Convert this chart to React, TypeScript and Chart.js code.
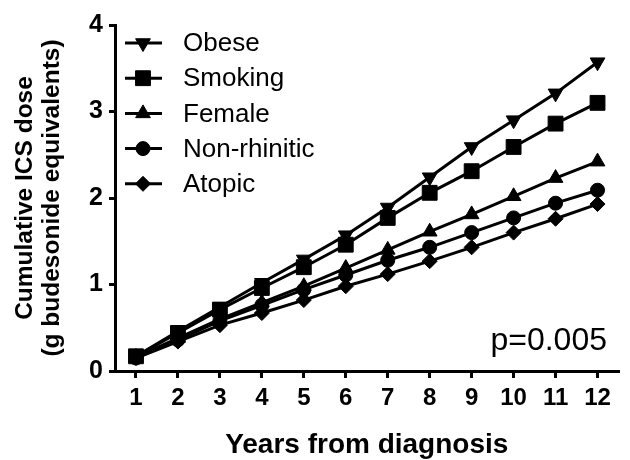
import React, { useEffect, useRef } from 'react';
import { Chart, registerables } from 'chart.js';
import { drawPoint } from 'chart.js/helpers';

Chart.register(...registerables);

const years = [1, 2, 3, 4, 5, 6, 7, 8, 9, 10, 11, 12];
const yTicks = [0, 1, 2, 3, 4];
const seriesNames = ['Obese', 'Smoking', 'Female', 'Non-rhinitic', 'Atopic'];
const obese = [0.17, 0.46, 0.74, 1.02, 1.29, 1.57, 1.89, 2.24, 2.59, 2.9, 3.21, 3.57];
const smoking = [0.17, 0.44, 0.71, 0.96, 1.2, 1.46, 1.77, 2.06, 2.31, 2.59, 2.86, 3.1];
const female = [0.16, 0.38, 0.6, 0.79, 0.98, 1.19, 1.4, 1.61, 1.81, 2.02, 2.23, 2.42];
const nonRhinitic = [0.15, 0.36, 0.58, 0.76, 0.94, 1.11, 1.28, 1.43, 1.6, 1.77, 1.94, 2.09];
const atopic = [0.15, 0.34, 0.53, 0.67, 0.82, 0.98, 1.12, 1.27, 1.43, 1.6, 1.76, 1.93];
const pText = 'p=0.005';
const xTitle = 'Years from diagnosis';
const yTitle = ['Cumulative ICS dose', '(g budesonide equivalents)'];

const FONT = "'Liberation Sans', Arial, Helvetica, sans-serif";

const styles = [
  { pointStyle: 'triangle', radius: 8.5, rotation: 180 },
  { pointStyle: 'rect', radius: 10.5, rotation: 0 },
  { pointStyle: 'triangle', radius: 8.5, rotation: 0 },
  { pointStyle: 'circle', radius: 7, rotation: 0 },
  { pointStyle: 'rectRot', radius: 7.5, rotation: 0 },
];

const legendPlugin = {
  id: 'customLegend',
  afterDraw(chart: any) {
    const ctx = chart.ctx;
    ctx.save();
    chart.data.datasets.forEach((ds: any, i: number) => {
      const y = 43 + i * 35.2;
      ctx.strokeStyle = '#000';
      ctx.lineWidth = 3;
      ctx.beginPath();
      ctx.moveTo(125, y);
      ctx.lineTo(162, y);
      ctx.stroke();
      ctx.fillStyle = '#000';
      ctx.lineWidth = 1;
      drawPoint(ctx, { pointStyle: ds.pointStyle, radius: ds.pointRadius, rotation: ds.pointRotation, borderWidth: 1 }, 143, y);
      ctx.fillStyle = '#000';
      ctx.font = `26px ${FONT}`;
      ctx.textAlign = 'left';
      ctx.textBaseline = 'middle';
      ctx.fillText(ds.label, 183, y + 1);
    });
    ctx.font = `32px ${FONT}`;
    ctx.textAlign = 'right';
    ctx.textBaseline = 'alphabetic';
    ctx.fillText(pText, 607, 350);
    ctx.restore();
  },
};

export default function App() {
  const ref = useRef<HTMLCanvasElement>(null);
  useEffect(() => {
    if (!ref.current) return;
    const all = [obese, smoking, female, nonRhinitic, atopic];
    const chart = new Chart(ref.current, {
      type: 'line',
      data: {
        datasets: all.map((vals, i) => ({
          label: seriesNames[i],
          data: years.map((x, j) => ({ x, y: vals[j] })),
          borderColor: '#000',
          backgroundColor: '#000',
          borderWidth: 3,
          pointStyle: styles[i].pointStyle as any,
          pointRadius: styles[i].radius,
          pointRotation: styles[i].rotation,
          pointBackgroundColor: '#000',
          pointBorderColor: '#000',
          pointBorderWidth: 1,
          clip: false as any,
        })),
      },
      options: {
        responsive: false,
        animation: false,
        layout: { padding: { top: 25, right: 0, left: 0, bottom: 0 } },
        plugins: { legend: { display: false }, tooltip: { enabled: false } },
        scales: {
          x: {
            type: 'linear',
            min: 0.5,
            max: 12.5,
            afterBuildTicks: (axis: any) => {
              axis.ticks = years.map((v) => ({ value: v }));
            },
            afterFit: (axis: any) => {
              axis.height = 89;
            },
            grid: { drawOnChartArea: false, drawTicks: true, tickLength: 7, color: '#000', lineWidth: 3 },
            border: { color: '#000', width: 3 },
            ticks: {
              color: '#000',
              padding: 6,
              maxRotation: 0,
              autoSkip: false,
              font: { family: FONT, size: 24, weight: 'bold' },
              callback: (v: any) => String(v),
            },
            title: {
              display: true,
              text: xTitle,
              color: '#000',
              font: { family: FONT, size: 28, weight: 'bold', lineHeight: 1 },
              padding: { top: 0, bottom: 1 },
            },
          },
          y: {
            type: 'linear',
            min: 0,
            max: 4,
            afterBuildTicks: (axis: any) => {
              axis.ticks = yTicks.map((v) => ({ value: v }));
            },
            afterFit: (axis: any) => {
              axis.width = 115;
            },
            grid: { drawOnChartArea: false, drawTicks: true, tickLength: 6, color: '#000', lineWidth: 3 },
            border: { color: '#000', width: 3 },
            ticks: {
              color: '#000',
              padding: 6,
              font: { family: FONT, size: 25, weight: 'bold' },
              callback: (v: any) => String(v),
            },
            title: {
              display: true,
              text: yTitle,
              color: '#000',
              font: { family: FONT, size: 24.5, weight: 'bold', lineHeight: 1.1 },
              padding: { top: 11.5, bottom: 0 },
            },
          },
        },
      },
      plugins: [legendPlugin],
    });
    return () => chart.destroy();
  }, []);
  return (
    <div style={{ position: 'fixed', left: 0, top: 0, width: 630, height: 460, background: '#fff' }}>
      <canvas ref={ref} width={630} height={460} />
    </div>
  );
}
